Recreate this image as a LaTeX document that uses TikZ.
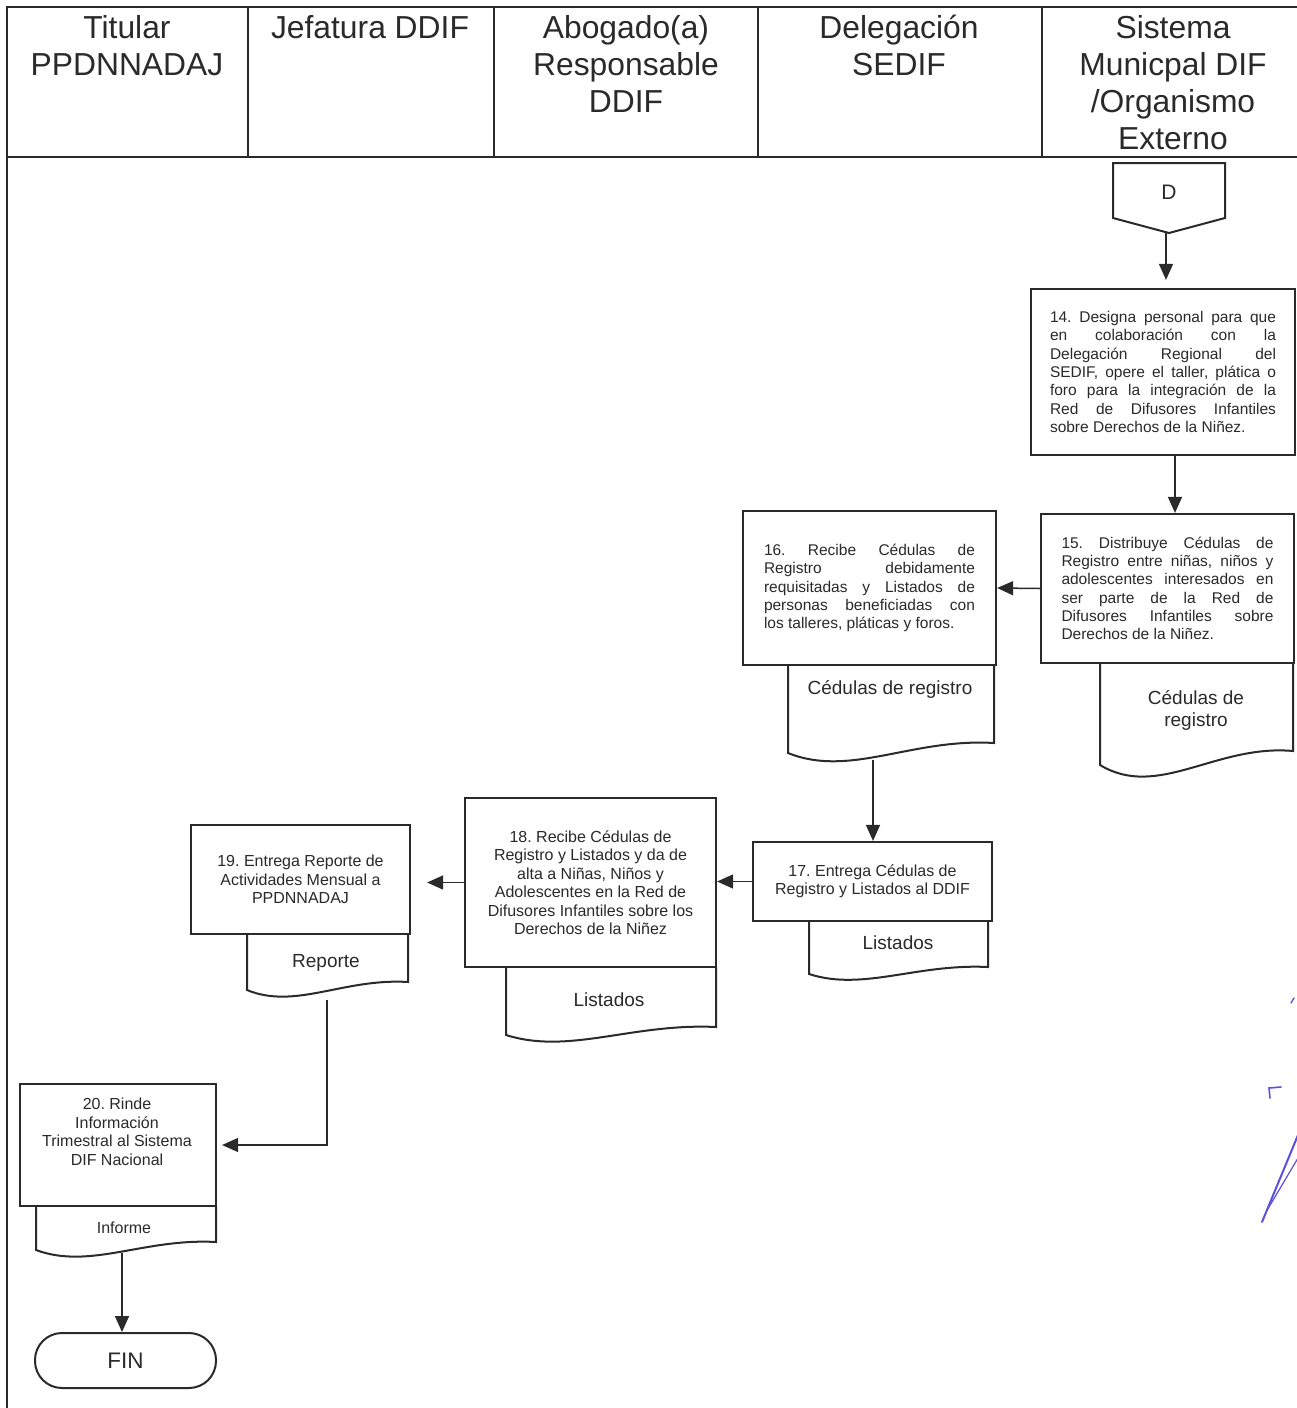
\documentclass[tikz,border=0pt]{standalone}
\usepackage{fontspec}
\setmainfont{Liberation Sans}
\usetikzlibrary{arrows.meta}
\definecolor{ink}{HTML}{2A2A2A}
\definecolor{sig}{HTML}{5B4FE0}
\newcommand\docpath[5]{\draw[docline] (#1,#3) -- (#1,#4) .. controls ({#1+0.3*(#2-#1)},{#4+2.5*#5}) and ({#1+0.6*(#2-#1)},{#4-1.5*#5}) .. (#2,{#4-#5}) -- (#2,#3);}
\frenchspacing
\begin{document}
\begin{tikzpicture}[x=1pt,y=-1pt,
  hdrline/.style={draw=ink, line width=1.2pt},
  hdrtext/.style={anchor=north, inner sep=0pt, align=center, text=ink, font=\fontsize{31.8}{37}\selectfont},
  box/.style={draw=ink, line width=2.2pt, fill=white, inner sep=0pt, text=ink, font=\fontsize{16}{18.5}\selectfont},
  jbox/.style={box, align=justify, font=\fontsize{15.5}{18.3}\selectfont},
  cbox/.style={box, align=center},
  docline/.style={draw=ink, line width=2pt},
  doctext/.style={inner sep=0pt, align=center, text=ink, font=\fontsize{19}{22}\selectfont},
  conn/.style={draw=ink, line width=1.5pt},
  arr/.style={conn, -{Triangle[length=16pt,width=14pt]}}
]
\useasboundingbox (0,0) rectangle (1296,1408);
\fill[white] (0,0) rectangle (1296,1408);
% header / lanes
\draw[hdrline] (7,1408) -- (7,7) -- (1300,7);
\draw[hdrline] (7,157) -- (1300,157);
\foreach \xx in {248,494,758,1042} \draw[hdrline] (\xx,7) -- (\xx,157);
\node[hdrtext] (h1) at (127,15) {Titular\\PPDNNADAJ};
\node[hdrtext] (h2) at (370,15) {Jefatura DDIF};
\node[hdrtext] (h3) at (626,15) {Abogado(a)\\Responsable\\DDIF};
\node[hdrtext] (h4) at (899,15) {Delegación\\SEDIF};
\node[hdrtext] (h5) at (1173,15) {Sistema\\Municpal DIF\\/Organismo\\Externo};
% off-page connector D
\draw[docline] (1113,163) -- (1225,163) -- (1225,218) -- (1169,233) -- (1113,218) -- cycle;
\node[inner sep=0pt, text=ink, font=\fontsize{21}{22}\selectfont] (D) at (1169,192) {D};
\coordinate (Dtip) at (1166,233);
% box 14
\node[jbox, minimum width=264, minimum height=166, text width=226] (b14) at (1163,372)
 {14. Designa personal para que\linebreak en colaboración con la\linebreak Delegación Regional del\linebreak SEDIF, opere el taller, plática o\linebreak foro para la integración de la\linebreak Red de Difusores Infantiles\linebreak sobre Derechos de la Niñez.};
% box 15
\node[jbox, minimum width=253, minimum height=149, text width=212] (b15) at (1167.5,588.5)
 {15. Distribuye Cédulas de\linebreak Registro entre niñas, niños y\linebreak adolescentes interesados en\linebreak ser parte de la Red de\linebreak Difusores Infantiles sobre\linebreak Derechos de la Niñez.};
\docpath{1100}{1293}{663}{765}{14}
\node[doctext] (d15) at (1196,710) {Cédulas de\\registro};
% box 16
\node[jbox, minimum width=253, minimum height=154, text width=211] (b16) at (869.5,588)
 {16. Recibe Cédulas de\linebreak Registro debidamente\linebreak requisitadas y Listados de\linebreak personas beneficiadas con\linebreak los talleres, pláticas y foros.};
\docpath{788}{994}{665}{753}{10}
\node[doctext] (d16) at (890,689) {Cédulas de registro};
\coordinate (d16b) at (873,760);
% box 17
\node[cbox, minimum width=239, minimum height=79] (b17) at (872.5,881.5)
 {17. Entrega Cédulas de\\Registro y Listados al DDIF};
\docpath{809}{988}{921}{974}{7}
\node[doctext] (d17) at (898,943) {Listados};
% box 18
\node[cbox, minimum width=251, minimum height=169] (b18) at (590.5,882.5)
 {18. Recibe Cédulas de\\Registro y Listados y da de\\alta a Niñas, Niños y\\Adolescentes en la Red de\\Difusores Infantiles sobre los\\Derechos de la Niñez};
\docpath{506}{716}{967}{1035}{8}
\node[doctext] (d18) at (609,1000) {Listados};
% box 19
\node[cbox, minimum width=219, minimum height=109] (b19) at (300.5,879.5)
 {19. Entrega Reporte de\\Actividades Mensual a\\PPDNNADAJ};
\docpath{247}{408}{934}{990}{8}
\node[doctext] (d19) at (326,963) {Reporte};
\coordinate (d19b) at (327,1000);
% box 20
\node[box, minimum width=196, minimum height=122] (b20) at (118,1145) {};
\node[inner sep=0pt, align=center, text=ink, font=\fontsize{16}{18.5}\selectfont] (b20t) at (117,1132)
 {20. Rinde\\Información\\Trimestral al Sistema\\DIF Nacional};
\docpath{36}{216}{1206}{1250}{8}
\node[doctext, font=\fontsize{16}{18}\selectfont] (d20) at (124,1228) {Informe};
\coordinate (d20b) at (122,1253);
% FIN
\node[draw=ink, line width=2pt, rounded corners=27pt, minimum width=181, minimum height=55, inner sep=0pt, text=ink, font=\fontsize{22.5}{26}\selectfont] (fin) at (125.5,1360.5) {FIN};
% connectors
\draw[arr, shorten >=8pt] (Dtip) -- (Dtip |- b14.north);
\draw[arr] ([xshift=12pt]b14.south) -- ([xshift=12pt]b14.south |- b15.north);
\draw[arr] (b15.west) -- (b16.east);
\draw[arr] (d16b) -- (d16b |- b17.north);
\draw[arr] (b17.west) -- (b17.west -| b18.east);
\draw[arr, shorten >=16pt] (b18.west) -- (b18.west -| b19.east);
\draw[arr, shorten >=5pt] (d19b) -- (d19b |- b20.east) -- (b20.east);
\draw[arr] (d20b) -- (d20b |- fin.north);
% handwritten mark
\draw[sig, line width=1.6pt, line cap=round] (1270,1098) -- (1269,1088) -- (1281,1087);
\draw[sig, line width=2pt, line cap=round] (1262,1222) -- (1298,1135);
\draw[sig, line width=1.2pt, line cap=round] (1266,1212) -- (1298,1158);
\draw[sig, line width=1.4pt, line cap=round] (1291,1003) -- (1294,998);
\end{tikzpicture}
\end{document}
